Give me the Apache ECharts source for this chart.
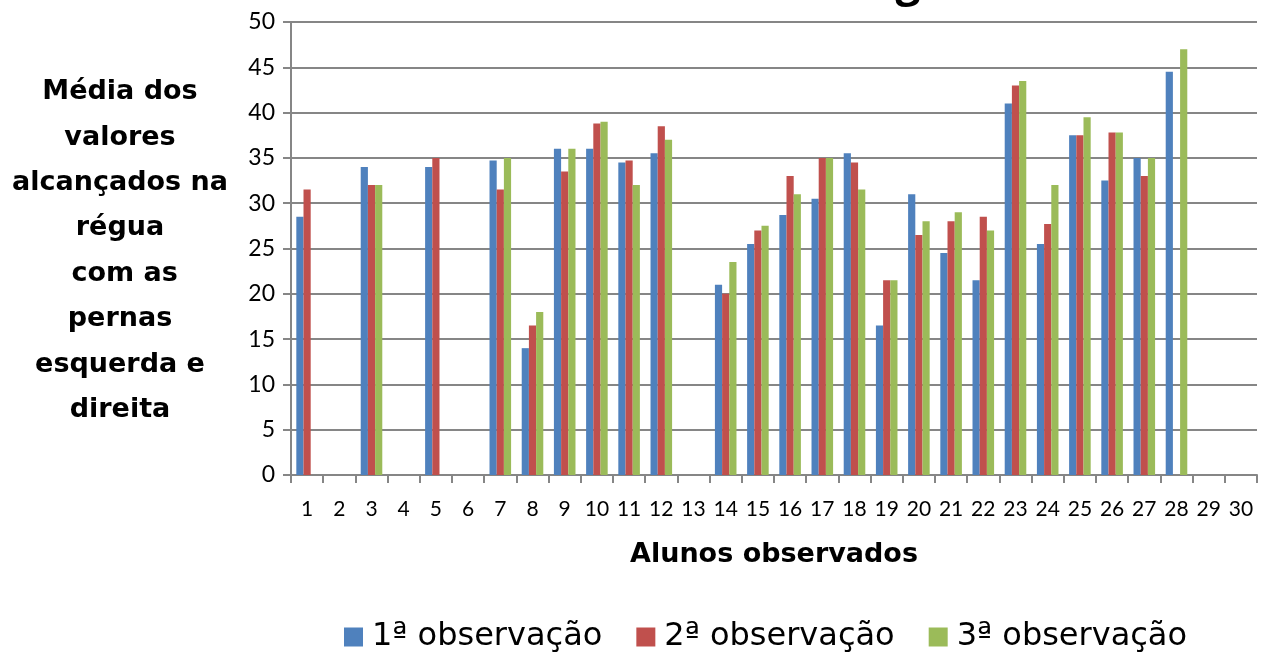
<!DOCTYPE html>
<html>
<head>
<meta charset="utf-8">
<script src="https://cdn.jsdelivr.net/npm/echarts@6/dist/echarts.min.js"></script>
<style>html,body{margin:0;padding:0;background:#fff}#c{width:1264px;height:655px}</style>
</head>
<body>
<div id="c"></div>
<script>
var categories = ['1','2','3','4','5','6','7','8','9','10','11','12','13','14','15','16','17','18','19','20','21','22','23','24','25','26','27','28','29','30'];
var obs1 = [28.5,null,34,null,34,null,34.7,14,36,36,34.5,35.5,null,21,25.5,28.7,30.5,35.5,16.5,31,24.5,21.5,41,25.5,37.5,32.5,35,44.5,null,null];
var obs2 = [31.5,null,32,null,35,null,31.5,16.5,33.5,38.8,34.7,38.5,null,20,27,33,35,34.5,21.5,26.5,28,28.5,43,27.7,37.5,37.8,33,null,null,null];
var obs3 = [null,null,32,null,null,null,35,18,36,39,32,37,null,23.5,27.5,31,35,31.5,21.5,28,29,27,43.5,32,39.5,37.8,35,47,null,null];
var seriesNames = ['1ª observação','2ª observação','3ª observação'];
var yTitleLines = ['Média dos','valores','alcançados na','régua',' com as','pernas','esquerda e','direita'];
var xTitle = 'Alunos observados';

var chart = echarts.init(document.getElementById('c'), null, {renderer:'canvas'});
var font = 'Lato, "Open Sans", sans-serif';
var wide = '"DejaVu Sans", sans-serif';
var gridColor = '#868686';
chart.setOption({
  animation:false,
  backgroundColor:'#fff',
  grid:{left:291,right:7,top:22,bottom:180,containLabel:false},
  legend:{
    left:339, top:616, itemWidth:19, itemHeight:19, itemGap:34,
    icon:'rect',
    textStyle:{fontFamily:wide, fontSize:32, color:'#000', padding:[0,0,0,4]},
    data:seriesNames
  },
  xAxis:{
    type:'category', data:categories,
    axisLine:{lineStyle:{color:gridColor,width:2}},
    axisTick:{show:true,length:8,lineStyle:{color:gridColor,width:2}},
    axisLabel:{fontFamily:font,fontSize:21,color:'#000',margin:24,interval:0},
    name:xTitle, nameLocation:'middle', nameGap:66,
    nameTextStyle:{fontFamily:wide,fontSize:27,fontWeight:'bold',color:'#000'}
  },
  yAxis:{
    type:'value', min:0, max:50, interval:5,
    axisLine:{show:true,lineStyle:{color:gridColor,width:2}},
    axisTick:{show:true,length:8,lineStyle:{color:gridColor,width:2}},
    axisLabel:{fontFamily:font,fontSize:23,color:'#000',margin:16},
    splitLine:{lineStyle:{color:gridColor,width:2}}
  },
  series:[
    {name:seriesNames[0],type:'bar',data:obs1,barGap:'0%',barCategoryGap:'33%',itemStyle:{color:'#4F81BD'}},
    {name:seriesNames[1],type:'bar',data:obs2,barGap:'0%',barCategoryGap:'33%',itemStyle:{color:'#C0504D'}},
    {name:seriesNames[2],type:'bar',data:obs3,barGap:'0%',barCategoryGap:'33%',itemStyle:{color:'#9BBB59'}}
  ],
  graphic:[
    {type:'text',x:120,y:251,style:{text:yTitleLines.join('\n'),fontFamily:wide,fontSize:27,fontWeight:'bold',fill:'#000',align:'center',verticalAlign:'middle',lineHeight:45.4}},
    {type:'text',x:908,y:-39,style:{text:'g',fontFamily:'"Open Sans", sans-serif',fontSize:44,fontWeight:'bold',fill:'#000',align:'center',verticalAlign:'top'}}
  ]
});
</script>
</body>
</html>
